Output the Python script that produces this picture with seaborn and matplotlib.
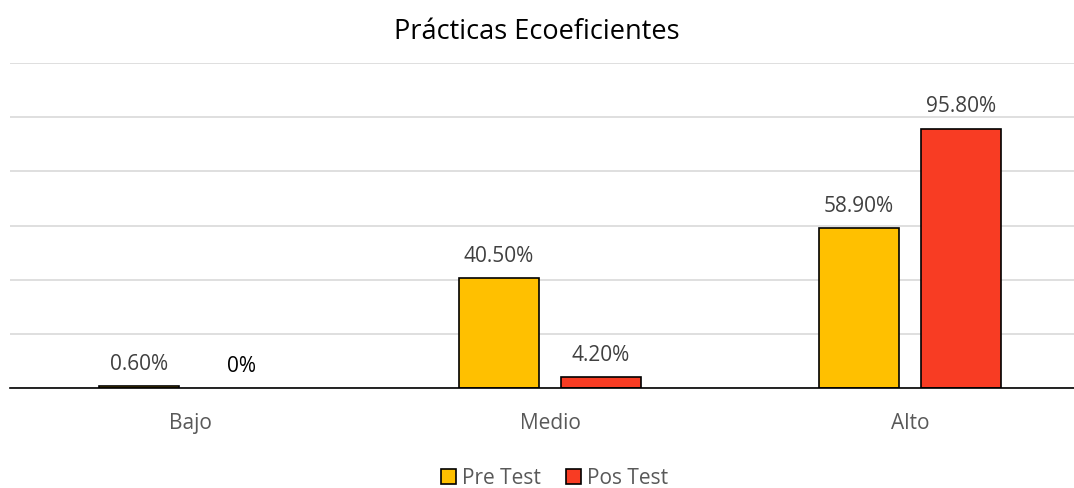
import matplotlib
matplotlib.use("Agg")
import matplotlib.pyplot as plt
import seaborn as sns
import pandas as pd

# data
categories = ["Bajo", "Medio", "Alto"]
pre_test = [0.6, 40.5, 58.9]
pos_test = [0.0, 4.2, 95.8]
series = ["Pre Test", "Pos Test"]
colors = ["#FFC000", "#F83C23"]

df = pd.DataFrame({
    "nivel": categories * 2,
    "valor": pre_test + pos_test,
    "serie": [series[0]] * 3 + [series[1]] * 3,
})

sns.set_theme(style="white")
plt.rcParams["font.family"] = ["Open Sans", "DejaVu Sans"]

fig = plt.figure(figsize=(10.74, 4.88), dpi=100)
ax = fig.add_axes([10 / 1074, 100 / 488, 1064 / 1074, 325 / 488])

sns.barplot(data=df, x="nivel", y="valor", hue="serie", order=categories,
            hue_order=series, palette=colors, saturation=1, width=0.567,
            gap=0.216, edgecolor="black", linewidth=1.2, ax=ax, legend=True)

ax.set_ylim(0, 120)
ax.set_xlim(-0.5, 2.5 - 16 / 360)
ax.set_yticks(range(0, 121, 20))
ax.yaxis.grid(True, color="#D9D9D9", linewidth=1.2)
ax.set_axisbelow(True)
ax.set_yticklabels([])
ax.tick_params(axis="y", length=0)
ax.tick_params(axis="x", length=0, labelsize=15, labelcolor="#595959", pad=18)
ax.set_xlabel("")
ax.set_ylabel("")
for s in ["top", "right", "left"]:
    ax.spines[s].set_visible(False)
ax.spines["bottom"].set_color("black")
ax.spines["bottom"].set_linewidth(1.2)

# value labels
for cont in ax.containers:
    labels = []
    for v in cont.datavalues:
        labels.append("0%" if v == 0 else f"{v:.2f}%")
    txts = ax.bar_label(cont, labels=labels, padding=8, fontsize=15, color="#404040")
    for t, p, v in zip(txts, cont.patches, cont.datavalues):
        if v == 0:
            t.set_color("black")
            p.set_linewidth(0)

fig.text(0.5, 0.935, "Prácticas Ecoeficientes", ha="center", va="center",
         fontsize=19.5, color="black")

ax.legend(loc="center", bbox_to_anchor=(0.512, -0.277), ncol=2,
          frameon=False, fontsize=15, handlelength=0.7, handleheight=0.7,
          handletextpad=0.3, columnspacing=1.2, labelcolor="#595959",
          borderpad=0.1)

fig.savefig("out.png", dpi=100)
